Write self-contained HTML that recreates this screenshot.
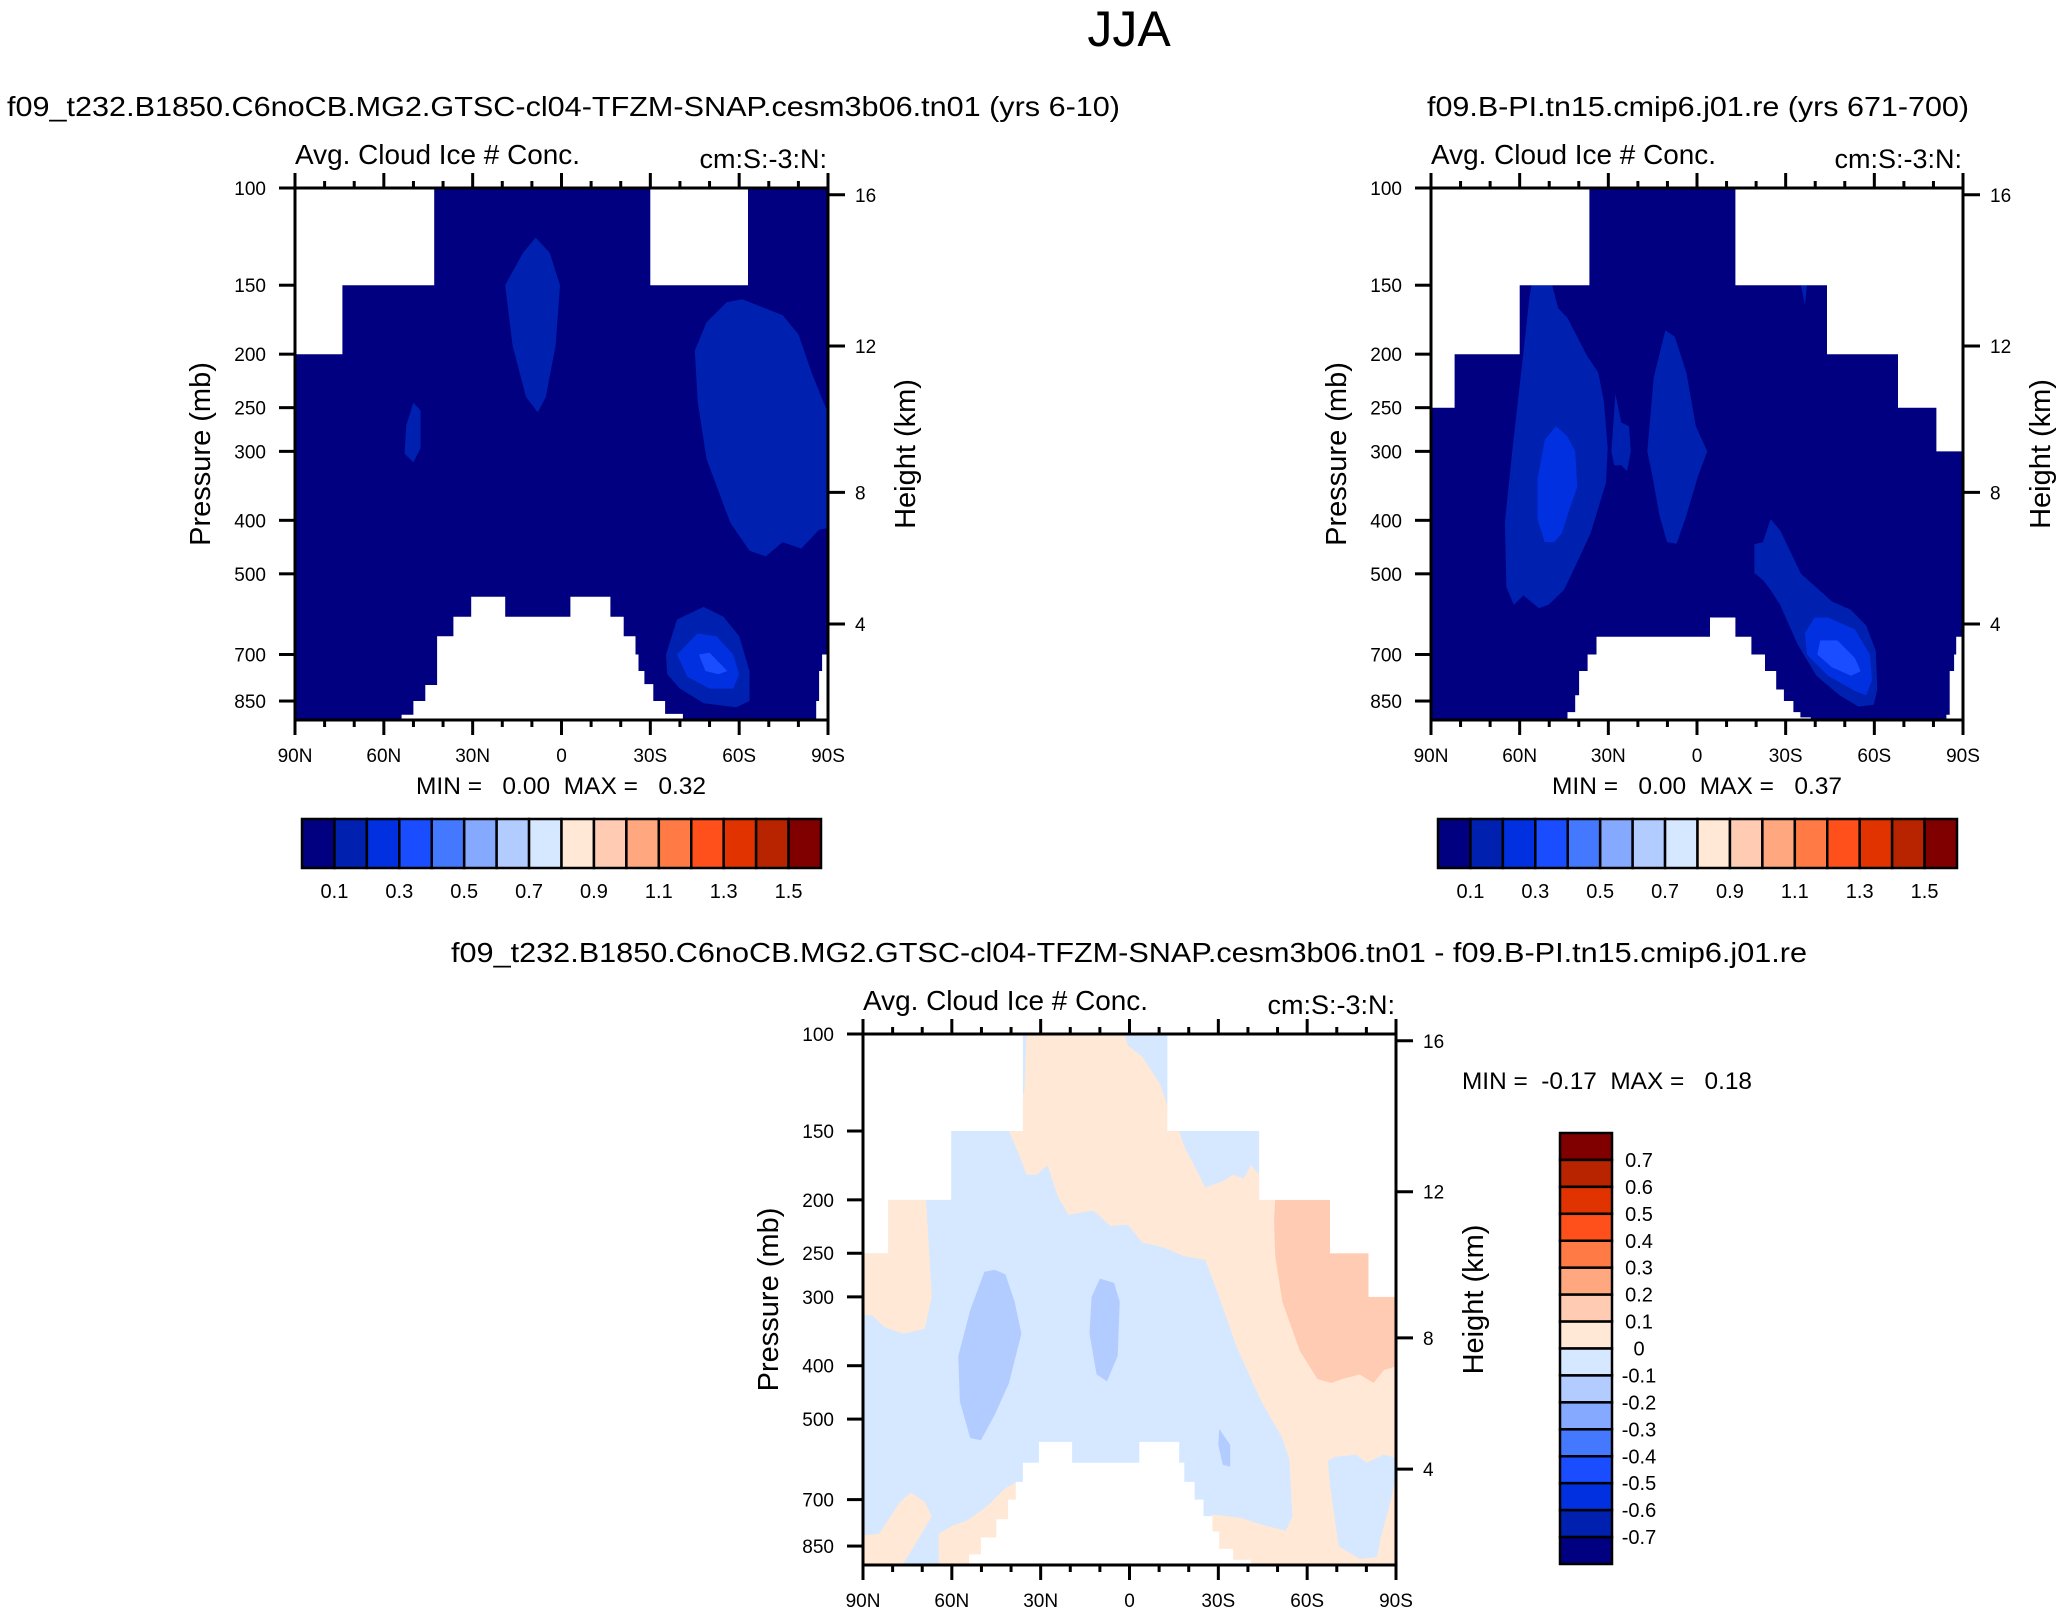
<!DOCTYPE html>
<html><head><meta charset="utf-8"><style>
html,body{margin:0;padding:0;background:#fff;}
svg{display:block;font-family:"Liberation Sans",Arial,sans-serif;}
</style></head><body>
<svg id="fig" width="2062" height="1617" viewBox="0 0 2062 1617" xmlns="http://www.w3.org/2000/svg">
<rect width="2062" height="1617" fill="#fff"/>
<text x="1129" y="46" font-size="50" text-anchor="middle">JJA</text>
<text x="7" y="116" font-size="28" textLength="1113" lengthAdjust="spacingAndGlyphs">f09_t232.B1850.C6noCB.MG2.GTSC-cl04-TFZM-SNAP.cesm3b06.tn01 (yrs 6-10)</text>
<text x="1427" y="116" font-size="28" textLength="542" lengthAdjust="spacingAndGlyphs">f09.B-PI.tn15.cmip6.j01.re (yrs 671-700)</text>
<text x="451" y="962" font-size="28" textLength="1356" lengthAdjust="spacingAndGlyphs">f09_t232.B1850.C6noCB.MG2.GTSC-cl04-TFZM-SNAP.cesm3b06.tn01 - f09.B-PI.tn15.cmip6.j01.re</text>
<g id="p1"></g>
<g id="p2"></g>
<g id="p3"></g>
</svg>
<script>
const seqColors = ['#000080','#0020b0','#0030e0','#1a4dff','#4479ff','#84a9ff','#b3ccff','#d6e8ff','#ffe9d6','#ffccb3','#ffa880','#ff7a45','#ff4f1a','#e03300','#b82400','#800000'];
const seqLabels = ['0.1','0.3','0.5','0.7','0.9','1.1','1.3','1.5'];
const diffLabels = ['0.7','0.6','0.5','0.4','0.3','0.2','0.1','0','-0.1','-0.2','-0.3','-0.4','-0.5','-0.6','-0.7'];
const latTicks = [90,60,30,0,-30,-60,-90];
const latTickLabels = ['90N','60N','30N','0','30S','60S','90S'];
const presTicks = [100,150,200,250,300,400,500,700,850];
const heightTicks = [16,12,8,4];
const PTOP = 100, PBOT = 920;

const p1White = [
 [[90,100],[43,100],[43,150],[74,150],[74,200],[90,200]],
 [[-30,100],[-63,100],[-63,150],[-30,150]],
 [[54,930],[54,900],[50,900],[50,850],[46,850],[46,795],[42,795],[42,649],[36.5,649],[36.5,598],[30.5,598],[30.5,550],[19,550],[19,598],[-3,598],[-3,550],[-16.5,550],[-16.5,598],[-21,598],[-21,649],[-25,649],[-25,700],[-26,700],[-26,750],[-28,750],[-28,792],[-31,792],[-31,850],[-35,850],[-35,897],[-41,897],[-41,930]],
 [[-88,700],[-91,700],[-91,930],[-86,930],[-86,850],[-87,850],[-87,750],[-88,750]]
];
const p1Level1 = [
 [[19,150],[16.5,193],[12,239],[8,255],[5.3,239],[2,193],[0.5,150],[4,131],[8.7,123],[13,131]],
 [[50,245],[47.6,253],[47.6,296],[50,314],[53,303],[52.4,269]],
 [[-45,197],[-49,175],[-55.8,161],[-61,159],[-74.7,170],[-80,184],[-84.6,217],[-90,256],[-90,413],[-87,416],[-81,450],[-74.7,438],[-69,465],[-63.5,454],[-57,404],[-49,310],[-46,244]],
 [[-35.3,700],[-39,605],[-48,574],[-54.7,598],[-60,649],[-63.5,750],[-63.5,850],[-59,872],[-48,858],[-40,807],[-35.7,760]]
];
const p1Level2 = [
 [[-39,700],[-46,641],[-52.3,649],[-58,700],[-60,760],[-58,807],[-50,807],[-42.5,768]]
];
const p1Level3 = [
 [[-46.4,700],[-50,695],[-56,750],[-53,760],[-48.6,750]]
];

const p2White = [
 [[90,100],[36.4,100],[36.4,150],[60,150],[60,200],[82,200],[82,250],[90,250]],
 [[-13,100],[-91,100],[-91,350],[-89.6,350],[-89.6,300],[-81,300],[-81,250],[-68,250],[-68,200],[-44,200],[-44,150],[-13,150]],
 [[43.8,930],[43.8,890],[41.2,890],[41.2,830],[39.9,830],[39.9,750],[37,750],[37,700],[34,700],[34,650],[-4.4,650],[-4.4,600],[-13,600],[-13,650],[-18.4,650],[-18.4,700],[-23,700],[-23,750],[-26.8,750],[-26.8,810],[-29.4,810],[-29.4,850],[-32.6,850],[-32.6,890],[-35,890],[-35,910],[-38.5,910],[-38.5,930]],
 [[-87.7,650],[-91,650],[-91,930],[-84.4,930],[-84.4,900],[-85.5,900],[-85.5,750],[-87,750],[-87,700],[-87.7,700]]
];
const p2Level1 = [
 [[56,150],[49,150],[47,165],[43.8,172],[37.3,201],[33.4,216],[31.5,244],[30.2,296],[30.8,342],[36,422],[40.5,476],[45,535],[50.2,569],[53.5,577],[58.7,547],[62,569],[64.5,529],[65,404],[62.5,299],[58.7,198],[56.7,158]],
 [[27.6,236],[25.6,266],[23,270],[22.4,300],[23.7,326],[25.6,318],[28,318],[29,300],[28.3,266]],
 [[10.7,181],[7.5,186],[3.6,216],[0.4,270],[-3.5,300],[-0.3,333],[3.6,392],[6.9,441],[10.1,438],[12.7,392],[15.3,328],[16.8,300],[14.6,220]],
 [[-24.9,398],[-28.1,417],[-35.2,500],[-45.6,561],[-52,581],[-57.2,620],[-60.5,689],[-61,810],[-59.8,863],[-54.6,870],[-48.2,830],[-40.4,765],[-33.9,669],[-28.1,569],[-24.9,535],[-22.3,513],[-19.4,498],[-19.4,442],[-22.3,438]],
 [[-35.2,150],[-37.2,150],[-36.5,163]]
];
const p2Level2 = [
 [[47.7,270],[43.8,282],[41.2,300],[40.5,348],[43,380],[45.7,422],[48.3,438],[51.5,438],[54,398],[54,338],[51.5,286]],
 [[-39.8,600],[-44.3,600],[-53.4,630],[-58.5,700],[-59.2,780],[-57.2,830],[-53.4,815],[-44.3,765],[-37.2,700],[-36.5,640]]
];
const p2Level3 = [
 [[-41.7,660],[-47.5,660],[-53.4,710],[-55.4,751],[-52.1,765],[-45.6,738],[-40.7,700]]
];

const p3Pos = [
 [[34.8,100],[35.5,127],[40.7,150],[37.2,166],[34.8,180],[31.3,180],[27.7,173],[24.2,197],[20.6,213],[12.3,209],[6.4,223],[0.5,222],[-4.3,239],[-11.4,244],[-18.5,253],[-25.6,257],[-30.3,300],[-36.2,370],[-44.5,464],[-51.6,541],[-54,592],[-55,750],[-52.8,797],[-44.5,777],[-37.5,755],[-28,745],[-25,930],[-91,930],[-91,95],[-13,95]],
 [[91,814],[84.5,808],[77.4,706],[73.9,680],[69.2,706],[66.8,750],[69.2,790],[75,890],[77.4,930],[91,930]],
 [[64.4,930],[64.4,808],[59.7,780],[55,765],[48,719],[42,668],[38,650],[38,930]],
 [[91,250],[81.5,250],[81.5,200],[68.7,200],[66.8,300],[69.2,343],[76.3,350],[82.9,340],[86.9,324],[91,324]]
];
const p3NegLight = [
 [[2.9,95],[-13,95],[-12.8,135],[-10.2,123],[-4.3,110],[0.5,105]],
 [[-16.8,150],[-43.8,150],[-43.8,180],[-41,173],[-38.6,183],[-35,180],[-31.5,185],[-25.6,190],[-20.8,169],[-18.5,160]],
 [[-67,595],[-69.4,585],[-76.5,580],[-80,600],[-86,580],[-91,590],[-88.3,700],[-84.8,823],[-83.6,890],[-77.7,897],[-70.6,850],[-67.7,660]]
];
const p3Pos2 = [
 [[-49.2,200],[-67.7,200],[-67.7,250],[-80.7,250],[-80.7,300],[-91,300],[-91,400],[-86,407],[-82.4,430],[-77.7,415],[-71.7,423],[-68.2,430],[-63.5,423],[-57.5,376],[-51.6,306],[-49.2,253],[-48.8,218]]
];
const p3Neg2 = [
 [[45.5,268],[41.9,273],[38.8,306],[36.5,350],[40.7,430],[45.5,491],[50.2,546],[53.8,541],[57.3,464],[57.8,384],[53.8,317],[49,270]],
 [[10,278],[5.2,283],[3.3,306],[4,384],[7.6,427],[11.1,415],[13.5,350],[12.8,300]],
 [[-30.3,521],[-34,557],[-34,610],[-31.5,605],[-30,557]]
];
const p3White = [
 [[91,95],[36,95],[36,150],[60.2,150],[60.2,200],[81.5,200],[81.5,250],[91,250]],
 [[-12.8,95],[-91,95],[-91,300],[-80.7,300],[-80.7,250],[-67.7,250],[-67.7,200],[-43.8,200],[-43.8,150],[-12.8,150]],
 [[54.2,930],[54.2,880],[50.2,880],[50.2,820],[45,820],[45,760],[41,760],[41,700],[38.4,700],[38.4,650],[36,650],[36,600],[30.6,600],[30.6,550],[19.4,550],[19.4,600],[-3.3,600],[-3.3,550],[-16.8,550],[-16.8,600],[-18.5,600],[-18.5,650],[-22,650],[-22,700],[-25,700],[-25,750],[-28,750],[-28,800],[-30.3,800],[-30.3,860],[-35,860],[-35,900],[-41,900],[-41,930]]
];

const NS = 'http://www.w3.org/2000/svg';
function mk(tag, attrs, parent){
  const e = document.createElementNS(NS, tag);
  for (const k in attrs) e.setAttribute(k, attrs[k]);
  parent.appendChild(e);
  return e;
}
function stdHeightToP(zkm){
  const z = zkm*1000;
  if (z <= 11000) return 1013.25*Math.pow(1-2.25577e-5*z, 5.25588);
  return 226.32*Math.exp(-(z-11000)/6341.6);
}

function panel(gid, L, T, W, H, opts){
  const g = document.getElementById(gid);
  const X = lat => L + (90-lat)/180*W;
  const Y = p => T + Math.log(p/PTOP)/Math.log(PBOT/PTOP)*H;
  const clipId = gid+'clip';
  const defs = mk('defs', {}, g);
  const cp = mk('clipPath', {id: clipId}, defs);
  mk('rect', {x:L, y:T, width:W, height:H}, cp);
  const field = mk('g', {'clip-path':'url(#'+clipId+')'}, g);
  
  
  const bg = mk('rect', {x:L, y:T, width:W, height:H, fill: opts.bg}, field);
  
  
  opts.layers.forEach(layer => {
    layer.polys.forEach(poly => {
      const pts = poly.map(q => X(q[0]).toFixed(1)+','+Y(q[1]).toFixed(1)).join(' ');
      const el = mk('polygon', {points: pts, fill: layer.color}, field);
      
      
    });
  });
  const frame = mk('rect', {x:L, y:T, width:W, height:H, fill:'none', stroke:'#000', 'stroke-width':3}, g);
  
  
  for (let lat = 90; lat >= -90; lat -= 10){
    const major = lat % 30 === 0;
    const len = major ? 15 : 7;
    mk('line', {x1:X(lat), x2:X(lat), y1:T, y2:T-len, stroke:'#000', 'stroke-width':3}, g);
    mk('line', {x1:X(lat), x2:X(lat), y1:T+H, y2:T+H+len, stroke:'#000', 'stroke-width':3}, g);
  }
  latTicks.forEach((lat,i) => {
    const t = mk('text', {x:X(lat), y:T+H+42, 'font-size':19, 'text-anchor':'middle'}, g);
    t.textContent = latTickLabels[i];
    
    
  });
  presTicks.forEach(p => {
    mk('line', {x1:L, x2:L-16, y1:Y(p), y2:Y(p), stroke:'#000', 'stroke-width':3}, g);
    const t = mk('text', {x:L-29, y:Y(p)+7, 'font-size':19, 'text-anchor':'end'}, g);
    t.textContent = p;
    
    
  });
  heightTicks.forEach(z => {
    const y = Y(stdHeightToP(z));
    mk('line', {x1:L+W, x2:L+W+17, y1:y, y2:y, stroke:'#000', 'stroke-width':3}, g);
    const t = mk('text', {x:L+W+27, y:y+7, 'font-size':19}, g);
    t.textContent = z;
    
    
  });
  const yt = mk('text', {x:0, y:0, 'font-size':29, 'text-anchor':'middle', transform:'translate('+(L-85)+','+(T+H/2)+') rotate(-90)'}, g);
  yt.textContent = 'Pressure (mb)';
  
  
  const ht = mk('text', {x:0, y:0, 'font-size':29, 'text-anchor':'middle', transform:'translate('+(L+W+87)+','+(T+H/2)+') rotate(-90)'}, g);
  ht.textContent = 'Height (km)';
  
  
  const lt = mk('text', {x:L, y:T-24, 'font-size':28, textLength:285, lengthAdjust:'spacingAndGlyphs'}, g);
  lt.textContent = 'Avg. Cloud Ice # Conc.';
  
  
  const rt = mk('text', {x:L+W-1, y:T-20, 'font-size':27, 'text-anchor':'end'}, g);
  rt.textContent = 'cm:S:-3:N:';
  
  
  const mm = mk('text', {x:opts.mmX, y:opts.mmY, 'font-size':24, textLength:290, lengthAdjust:'spacingAndGlyphs', style:'white-space:pre'}, g);
  mm.textContent = opts.mmText;
  
  
}

function hbar(gid, x0, y0, w, h){
  const g = document.getElementById(gid);
  const bw = w/seqColors.length;
  seqColors.forEach((c,i) => {
    const r = mk('rect', {x:x0+i*bw, y:y0, width:bw, height:h, fill:c, stroke:'#000', 'stroke-width':2.5}, g);
    
    
  });
  seqLabels.forEach((s,i) => {
    const t = mk('text', {x:x0+(2*i+1)*bw, y:y0+h+30, 'font-size':20, 'text-anchor':'middle'}, g);
    t.textContent = s;
    
    
  });
}

function vbar(gid, x0, y0, w, h){
  const g = document.getElementById(gid);
  const rev = seqColors.slice().reverse();
  const bh = h/rev.length;
  rev.forEach((c,i) => {
    const r = mk('rect', {x:x0, y:y0+i*bh, width:w, height:bh, fill:c, stroke:'#000', 'stroke-width':2.5}, g);
    
    
  });
  diffLabels.forEach((s,i) => {
    const t = mk('text', {x:x0+w+27, y:y0+(i+1)*bh+7, 'font-size':20, 'text-anchor':'middle'}, g);
    t.textContent = s;
    
    
  });
}

panel('p1', 295, 188, 533, 532, {bg: seqColors[0],
  layers:[{polys:p1Level1,color:seqColors[1],name:'contour-0.1'},{polys:p1Level2,color:seqColors[2],name:'contour-0.2'},{polys:p1Level3,color:seqColors[3],name:'contour-0.3'},{polys:p1White,color:'#fff',name:'missing-data'}],
  mmX:416, mmY:794, mmText:'MIN =   0.00  MAX =   0.32'});
panel('p2', 1431, 188, 532, 532, {bg: seqColors[0],
  layers:[{polys:p2Level1,color:seqColors[1],name:'contour-0.1'},{polys:p2Level2,color:seqColors[2],name:'contour-0.2'},{polys:p2Level3,color:seqColors[3],name:'contour-0.3'},{polys:p2White,color:'#fff',name:'missing-data'}],
  mmX:1552, mmY:794, mmText:'MIN =   0.00  MAX =   0.37'});
panel('p3', 863, 1034, 533, 531, {bg: seqColors[7],
  layers:[{polys:p3Pos,color:seqColors[8],name:'contour-pos-0'},{polys:p3NegLight,color:seqColors[7],name:'contour-neg-0'},{polys:p3Pos2,color:seqColors[9],name:'contour-pos-0.1'},{polys:p3Neg2,color:seqColors[6],name:'contour-neg-0.1'},{polys:p3White,color:'#fff',name:'missing-data'}],
  mmX:1462, mmY:1089, mmText:'MIN =  -0.17  MAX =   0.18'});
hbar('p1', 302, 819, 519, 49);
hbar('p2', 1438, 819, 519, 49);
vbar('p3', 1560, 1133, 52, 431);
</script>
</body></html>
